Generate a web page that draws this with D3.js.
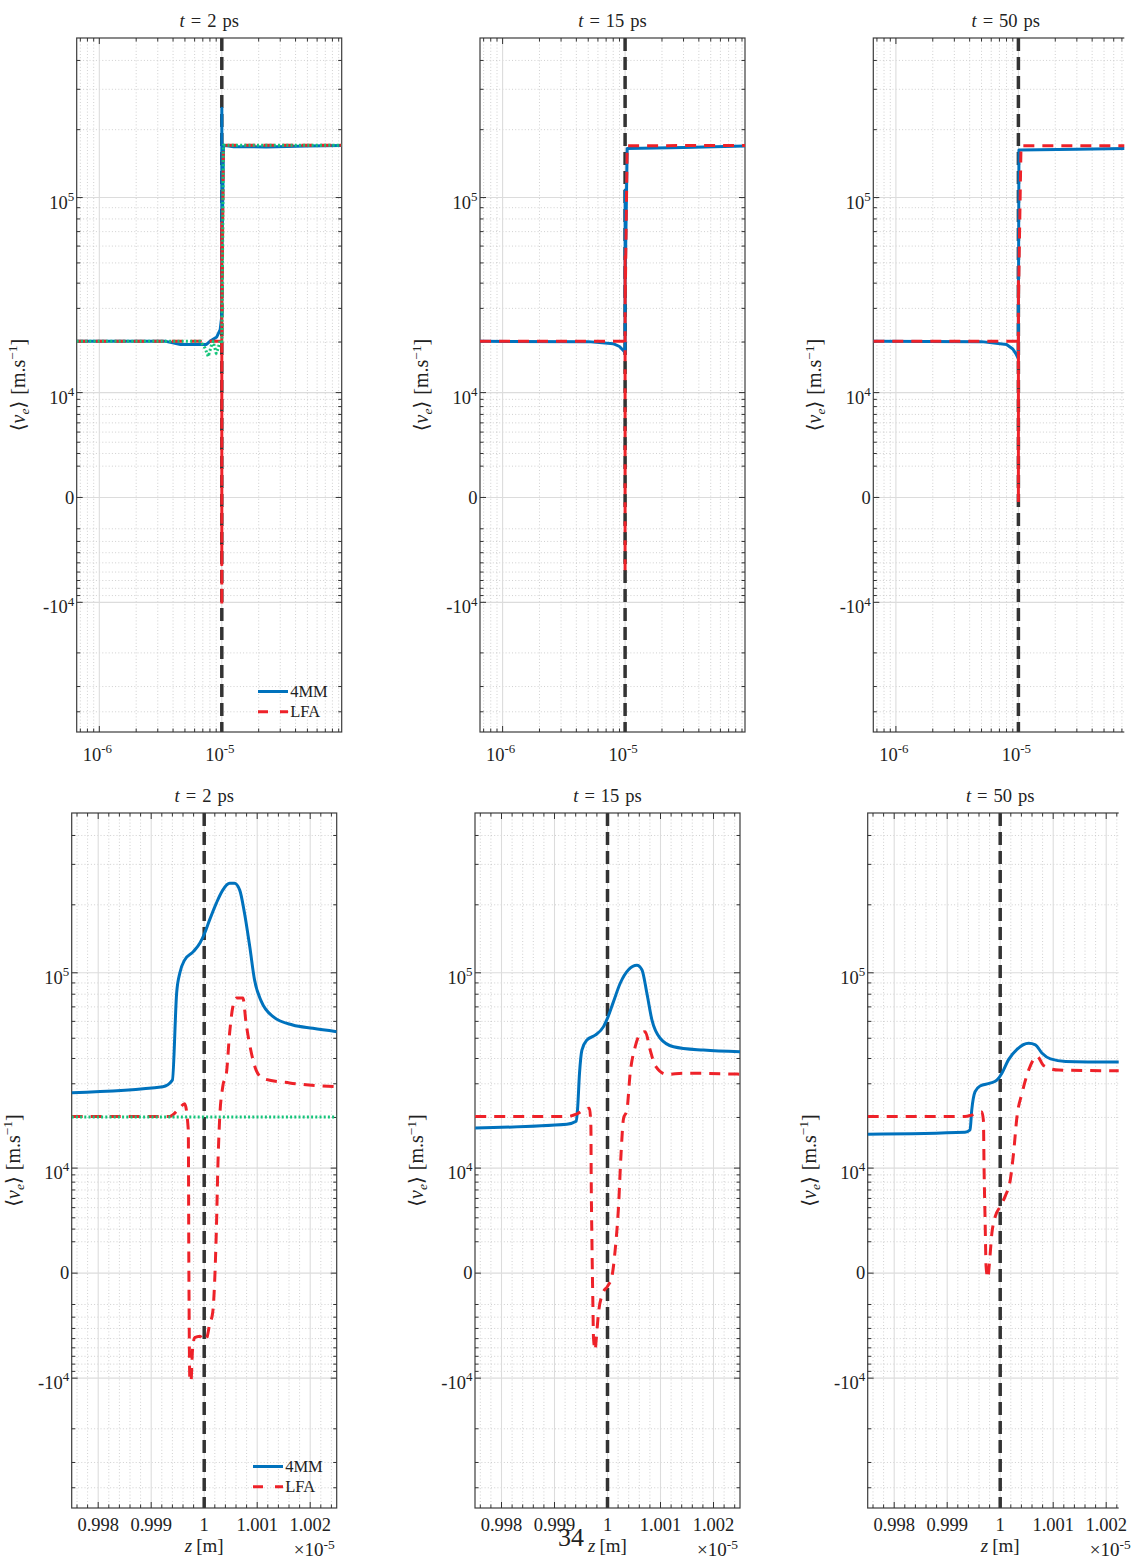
<!DOCTYPE html>
<html><head><meta charset="utf-8">
<script src="https://cdn.jsdelivr.net/npm/d3@7"></script>
<style>
body{margin:0;background:#fff}
text{font-family:"Liberation Serif","DejaVu Serif",serif;fill:#222}
</style>
</head><body>
<svg id="c" width="1135" height="1560"></svg>
<script>
// ---------------- DATA ----------------
const times = ["2", "15", "50"];
const legendLabels = ["4MM", "LFA"];
const yMajorTicks = [-1e4, 0, 1e4, 1e5];
const yMajorLabels = [["-10", "4"], ["0", ""], ["10", "4"], ["10", "5"]];
const xTopMajorTicks = [1e-6, 1e-5];
const xTopMajorLabels = [["10", "-6"], ["10", "-5"]];
const xBotMajorTicks = [0.998, 0.999, 1.0, 1.001, 1.002];
const xBotMajorLabels = ["0.998", "0.999", "1", "1.001", "1.002"];

// zoomed region (z in units of 1e-5 m), <v_e> in m/s
const detail2_4MM = [[0.99750,27040],[0.99922,29000],[0.99940,31300],[0.99948,81000],[0.99954,99800],[0.99963,114000],[0.99979,124000],[0.99992,135700],[1.00001,150300],[1.00010,171300],[1.00023,203600],[1.00035,231900],[1.00048,248100],[1.00057,248100],[1.00067,231900],[1.00076,184200],[1.00086,130700],[1.00095,92700],[1.00108,74000],[1.00130,63100],[1.00167,57700],[1.00205,55700],[1.00250,53700]];
const detail2_LFA = [[0.99750,20250],[0.99935,20250],[0.99954,22500],[0.99963,23650],[0.99970,17050],[0.99971,760],[0.99973,-10400],[0.99975,-10500],[0.99978,-6190],[0.99982,-4900],[0.99992,-4760],[0.99999,-5200],[1.00005,-4900],[1.00010,-3660],[1.00016,-2640],[1.00023,2990],[1.00026,10830],[1.00029,19300],[1.00035,29000],[1.00042,34000],[1.00048,52950],[1.00054,70000],[1.00061,76900],[1.00073,76900],[1.00079,59000],[1.00089,42550],[1.00098,35100],[1.00111,31900],[1.00161,30300],[1.00250,29000]];
const detail2_green = [[0.99750,20100],[1.00250,20100]];
const detail15_4MM = [[0.997504,17500],[0.999234,18350],[0.999409,19050],[0.999434,21900],[0.999472,33900],[0.999517,43900],[0.999611,49050],[0.999768,51700],[0.999925,56700],[1.000000,62100],[1.000113,74000],[1.000240,89700],[1.000396,103200],[1.000555,108000],[1.000649,103200],[1.000743,80800],[1.000838,61000],[1.000994,50000],[1.001245,45600],[1.001811,43900],[1.002504,43100]];
const detail15_LFA = [[0.997504,20250],[0.999234,20250],[0.999423,20900],[0.999579,22150],[0.999660,22450],[0.999687,17700],[0.999692,9245],[0.999706,2150],[0.999725,-2160],[0.999736,-4950],[0.999768,-6250],[0.999787,-5100],[0.999830,-2660],[0.999913,-1200],[1.000000,-770],[1.000083,-185],[1.000145,1420],[1.000208,5120],[1.000253,11900],[1.000302,19700],[1.000366,21900],[1.000428,33900],[1.000523,45600],[1.000585,50800],[1.000711,53700],[1.000806,43900],[1.000900,36900],[1.001121,33400],[1.001434,33900],[1.002504,33500]];
const detail50_4MM = [[0.997500,16130],[0.999336,16550],[0.999431,17050],[0.999463,21900],[0.999526,27350],[0.999620,29250],[0.999810,30200],[0.999937,31300],[1.000032,33900],[1.000157,39500],[1.000317,44300],[1.000537,47350],[1.000664,46500],[1.000791,42400],[1.000949,39800],[1.001233,38700],[1.002300,38400]];
const detail50_LFA = [[0.997500,20250],[0.999336,20250],[0.999463,20600],[0.999653,21400],[0.999683,19300],[0.999696,9740],[0.999715,3790],[0.999734,360],[0.999767,-275],[0.999791,360],[0.999843,2660],[0.999905,4100],[1.000000,5120],[1.000095,6260],[1.000190,8300],[1.000252,12450],[1.000317,20250],[1.000412,26850],[1.000537,35100],[1.000696,40900],[1.000822,36900],[1.001106,35100],[1.002300,34800]];

// full domain (z in m): parts left and right of the zoomed region
const far2_4MM_left = [[6.538e-7,20170],[3.5e-6,20170],[4.6e-6,19400],[7.5e-6,19400],[8.0e-6,20170],[9.1e-6,21300],[9.7e-6,23300]];
const far2_4MM_right = [[1.033e-5,170900],[1.25e-5,168200],[2.3e-5,168000],[5e-5,169500],[9.524e-5,170500]];
const far2_LFA_left = [[6.538e-7,20170],[9.9e-6,20170]];
const far2_LFA_right = [[1.03e-5,170900],[9.524e-5,171000]];
const far2_green_left = [[6.538e-7,20170],[6.7e-6,20170],[7.3e-6,18500],[7.75e-6,16600],[8.2e-6,19000],[8.5e-6,20170],[9.0e-6,17300],[9.35e-6,18500],[9.7e-6,20500]];
const far2_green_right = [[1.03e-5,170900],[9.524e-5,171000]];
const far15_4MM_left = [[6.538e-7,20170],[5e-6,20100],[8e-6,19600],[9e-6,18900],[9.5e-6,18200],[9.8e-6,17800]];
const far15_4MM_right = [[1.04e-5,165500],[3e-5,167000],[9.524e-5,169500]];
const far15_LFA_left = [[6.538e-7,20170],[9.9e-6,20170]];
const far15_LFA_right = [[1.04e-5,170000],[9.524e-5,170500]];
const far50_4MM_left = [[6.538e-7,20170],[5e-6,20100],[8e-6,19400],[9e-6,18300],[9.5e-6,17300],[9.8e-6,16600]];
const far50_4MM_right = [[1.01e-5,162700],[3e-5,164000],[9.524e-5,165500]];
const far50_LFA_left = [[6.538e-7,20170],[9.9e-6,20170]];
const far50_LFA_right = [[1.05e-5,169800],[9.524e-5,170000]];

// ---------------- LAYOUT ----------------
const COL = {blue:"#0072BD", red:"#EE2229", green:"#14C47A", dash:"#333333"};
const svg = d3.select("#c");
svg.append("rect").attr("width",1135).attr("height",1560).attr("fill","#fff");
const FS = 18.5;
const PW = 265;
const topLeft = [76.7, 480, 873.3], topTop = 38, topH = 694;
const botLeft = [71.7, 475, 867.7], botTop = 813, botH = 695;
const clipW = [265, 265, 251];

const xTop = d3.scaleLog().domain([6.538e-7, 9.524e-5]).range([0, PW]);
const xBot = d3.scaleLinear().domain([0.9975, 1.0025]).range([0, PW]);
const mkY = h => d3.scaleSymlog().constant(5555.6).domain([-5e4, 5e5]).range([h, 0]);

const xTopMinor = [];
[-7,-6,-5].forEach(k => { for (let m=2;m<=9;m++){ const v=m*Math.pow(10,k); if (v>6.54e-7 && v<9.52e-5) xTopMinor.push(v);} });
const xBotMinor = d3.range(-12,13).filter(i => i%5!==0).map(i => 1 + i*0.0002);
const yMinor = [];
[1,-1].forEach(s => [1e3,1e4,1e5].forEach(d => { for (let m=2;m<=9;m++){ const v=s*m*d; if (v>-5e4 && v<5e5) yMinor.push(v);} }));

const toMeters = arr => arr.map(([z,v]) => [z*1e-5, v]);

function powText(sel, base, exp, fs) {
  sel.append("tspan").text(base);
  if (exp) sel.append("tspan").attr("dy", -fs*0.42).attr("font-size", fs*0.7).text(exp);
}

let clipCount = 0;
function panel(cfg) {
  const {px, py, h, cw, xs, xMaj, xMin, series, z0, idx, top} = cfg;
  const ys = mkY(h);
  const g = svg.append("g").attr("transform", `translate(${px},${py})`);
  const cid = "clip" + (clipCount++);
  g.append("clipPath").attr("id", cid).append("rect")
    .attr("x", -3).attr("y", -3).attr("width", cw + (cw < PW ? 3 : 6)).attr("height", h + 6);
  const pid = "clip" + (clipCount++);
  g.append("clipPath").attr("id", pid).append("rect")
    .attr("x", 0).attr("y", 0).attr("width", Math.min(cw, PW)).attr("height", h);
  const c = g.append("g").attr("clip-path", `url(#${cid})`);

  // minor grid
  c.selectAll(null).data(xMin).enter().append("line")
    .attr("x1", d => xs(d)).attr("x2", d => xs(d)).attr("y1", 0).attr("y2", h)
    .attr("stroke", "#c4c4c4").attr("stroke-width", 0.8).attr("stroke-dasharray", "1,2.2");
  c.selectAll(null).data(yMinor).enter().append("line")
    .attr("y1", d => ys(d)).attr("y2", d => ys(d)).attr("x1", 0).attr("x2", PW)
    .attr("stroke", "#c4c4c4").attr("stroke-width", 0.8).attr("stroke-dasharray", "1,2.2");
  // major grid
  c.selectAll(null).data(xMaj).enter().append("line")
    .attr("x1", d => xs(d)).attr("x2", d => xs(d)).attr("y1", 0).attr("y2", h)
    .attr("stroke", "#dcdcdc").attr("stroke-width", 1.1);
  c.selectAll(null).data(yMajorTicks).enter().append("line")
    .attr("y1", d => ys(d)).attr("y2", d => ys(d)).attr("x1", 0).attr("x2", PW)
    .attr("stroke", "#dcdcdc").attr("stroke-width", 1.1);

  // interface line
  c.append("line").attr("x1", xs(z0)).attr("x2", xs(z0)).attr("y1", 0).attr("y2", h)
    .attr("stroke", COL.dash).attr("stroke-width", 3.5).attr("stroke-dasharray", "13,6");

  // series
  const lg = g.append("g").attr("clip-path", `url(#${pid})`);
  const line = d3.line().x(d => xs(d[0])).y(d => ys(d[1]))
    .curve(top ? d3.curveLinear : d3.curveMonotoneX);
  series.forEach(s => {
    lg.append("path").attr("d", line(s.data)).attr("fill", "none")
      .attr("stroke", COL[s.color]).attr("stroke-width", 3)
      .attr("stroke-dasharray", s.color === "red" ? "11,8" : (s.color === "green" ? "2,2.2" : null))
      .attr("stroke-linejoin", "round");
  });

  // box
  c.append("rect").attr("x", 0).attr("y", 0).attr("width", PW).attr("height", h)
    .attr("fill", "none").attr("stroke", "#3c3c3c").attr("stroke-width", 1.2);
  // ticks
  const tk = (vals, len, horiz) => {
    vals.forEach(v => {
      if (horiz) {
        const yy = ys(v);
        c.append("line").attr("x1", 0).attr("x2", len).attr("y1", yy).attr("y2", yy).attr("stroke", "#333").attr("stroke-width", 1);
        c.append("line").attr("x1", PW).attr("x2", PW - len).attr("y1", yy).attr("y2", yy).attr("stroke", "#333").attr("stroke-width", 1);
      } else {
        const xx = xs(v);
        c.append("line").attr("x1", xx).attr("x2", xx).attr("y1", h).attr("y2", h - len).attr("stroke", "#333").attr("stroke-width", 1);
        c.append("line").attr("x1", xx).attr("x2", xx).attr("y1", 0).attr("y2", len).attr("stroke", "#333").attr("stroke-width", 1);
      }
    });
  };
  tk(yMajorTicks, 6, true); tk(yMinor, 3.5, true);
  tk(xMaj, 6, false); tk(xMin, 3.5, false);

  // y tick labels
  yMajorTicks.forEach((v, i) => {
    const hasExp = yMajorLabels[i][1] !== "";
    const t = g.append("text").attr("x", -2.5).attr("y", ys(v) + (hasExp ? 11 : 6.3)).attr("text-anchor", "end").attr("font-size", FS);
    powText(t, yMajorLabels[i][0], yMajorLabels[i][1], FS);
  });
  // x tick labels
  if (top) {
    xTopMajorTicks.forEach((v, i) => {
      const t = g.append("text").attr("x", xs(v) - 2).attr("y", h + 28.5).attr("text-anchor", "middle").attr("font-size", FS);
      powText(t, xTopMajorLabels[i][0], xTopMajorLabels[i][1], FS);
    });
  } else {
    xBotMajorTicks.forEach((v, i) => {
      g.append("text").attr("x", xs(v)).attr("y", h + 23).attr("text-anchor", "middle").attr("font-size", FS).text(xBotMajorLabels[i]);
    });
    const zl = g.append("text").attr("x", xs(1.0)).attr("y", h + 44).attr("text-anchor", "middle").attr("font-size", 19);
    zl.append("tspan").attr("font-style", "italic").text("z");
    zl.append("tspan").attr("dx", 4).text("[m]");
    const ex = g.append("text").attr("x", PW - 2).attr("y", h + 48).attr("text-anchor", "end").attr("font-size", 19);
    ex.append("tspan").text("×10");
    ex.append("tspan").attr("dy", -7.5).attr("font-size", 13.5).text("-5");
  }
  // title
  const tt = g.append("text").attr("x", PW / 2).attr("y", -11.3).attr("text-anchor", "middle").attr("font-size", 18.5);
  tt.append("tspan").attr("font-style", "italic").text("t");
  tt.append("tspan").attr("dx", 6).text("=");
  tt.append("tspan").attr("dx", 6).text(times[idx]);
  tt.append("tspan").attr("dx", 6).text("ps");
  // y label
  const yl = g.append("text").attr("transform", `translate(${-52},${h / 2}) rotate(-90)`).attr("text-anchor", "middle").attr("font-size", 20);
  yl.append("tspan").text("\u27E8");
  yl.append("tspan").attr("font-style", "italic").text("v");
  yl.append("tspan").attr("dy", 4).attr("font-size", 13.5).attr("font-style", "italic").text("e");
  yl.append("tspan").attr("dy", -4).text("\u27E9");
  yl.append("tspan").attr("dx", 6).text("[m.s");
  yl.append("tspan").attr("dy", -7.5).attr("font-size", 13.5).text("\u22121");
  yl.append("tspan").attr("dy", 7.5).text("]");

  // legend
  if (idx === 0) {
    const ly = [653.5, 673.7];
    const cols = ["blue", "red"];
    legendLabels.forEach((lab, i) => {
      g.append("line").attr("x1", 181.3).attr("x2", 211.3).attr("y1", ly[i]).attr("y2", ly[i])
        .attr("stroke", COL[cols[i]]).attr("stroke-width", 3)
        .attr("stroke-dasharray", i === 1 ? "10,12" : null);
      g.append("text").attr("x", 213.5).attr("y", ly[i] + 5.5).attr("font-size", 16.5).text(lab);
    });
  }
}

// top row (log z)
const topSeries = [
  [ {data: [...far2_4MM_left, ...toMeters(detail2_4MM), ...far2_4MM_right], color: "blue"},
    {data: [...far2_LFA_left, ...toMeters(detail2_LFA), ...far2_LFA_right], color: "red"},
    {data: [...far2_green_left, ...toMeters(detail2_green), ...far2_green_right], color: "green"} ],
  [ {data: [...far15_4MM_left, ...toMeters(detail15_4MM), ...far15_4MM_right], color: "blue"},
    {data: [...far15_LFA_left, ...toMeters(detail15_LFA), ...far15_LFA_right], color: "red"} ],
  [ {data: [...far50_4MM_left, ...toMeters(detail50_4MM), ...far50_4MM_right], color: "blue"},
    {data: [...far50_LFA_left, ...toMeters(detail50_LFA), ...far50_LFA_right], color: "red"} ]
];
const botSeries = [
  [ {data: detail2_4MM, color: "blue"}, {data: detail2_LFA, color: "red"}, {data: detail2_green, color: "green"} ],
  [ {data: detail15_4MM, color: "blue"}, {data: detail15_LFA, color: "red"} ],
  [ {data: detail50_4MM, color: "blue"}, {data: detail50_LFA, color: "red"} ]
];

for (let i = 0; i < 3; i++) {
  panel({px: topLeft[i], py: topTop, h: topH, cw: clipW[i], xs: xTop, xMaj: xTopMajorTicks, xMin: xTopMinor,
         series: topSeries[i], z0: 1e-5, idx: i, top: true});
  panel({px: botLeft[i], py: botTop, h: botH, cw: clipW[i], xs: xBot, xMaj: xBotMajorTicks, xMin: xBotMinor,
         series: botSeries[i], z0: 1.0, idx: i, top: false});
}

// page number
svg.append("text").attr("x", 571).attr("y", 1546).attr("text-anchor", "middle").attr("font-size", 26).text("34");
</script>
</body></html>
